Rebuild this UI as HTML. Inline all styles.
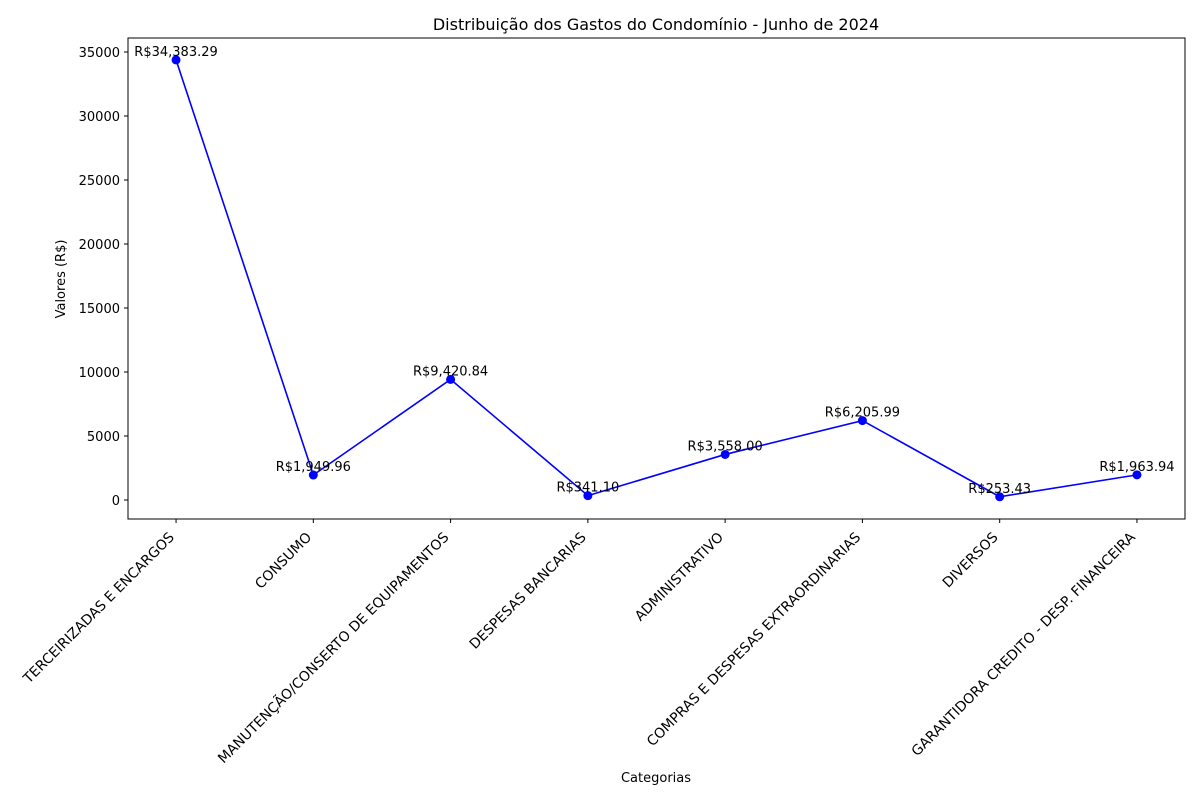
<!DOCTYPE html>
<html><head><meta charset="utf-8"><style>
body{margin:0;background:#fff}
svg{font-family:"DejaVu Sans","Liberation Sans",sans-serif}
</style></head><body>
<svg id="chart" width="1200" height="800" viewBox="0 0 1200 800">
<rect width="1200" height="800" fill="#fff"/>
<text x="656" y="30" font-size="16" text-anchor="middle">Distribuição dos Gastos do Condomínio - Junho de 2024</text>
<text x="656" y="782" font-size="13" text-anchor="middle">Categorias</text>
<text transform="translate(65,279) rotate(-90)" font-size="13" text-anchor="middle">Valores (R$)</text>
<g id="yt"></g><g id="xt"></g><g id="series"></g>
<rect x="128" y="38" width="1057" height="481" fill="none" stroke="#000" stroke-width="1"/>
</svg>
<script>
const categories=["TERCEIRIZADAS E ENCARGOS","CONSUMO","MANUTENÇÃO/CONSERTO DE EQUIPAMENTOS","DESPESAS BANCARIAS","ADMINISTRATIVO","COMPRAS E DESPESAS EXTRAORDINARIAS","DIVERSOS","GARANTIDORA CREDITO - DESP. FINANCEIRA"];
const values=[34383.29,1949.96,9420.84,341.10,3558.00,6205.99,253.43,1963.94];
const yTicks=[0,5000,10000,15000,20000,25000,30000,35000];
const NS="http://www.w3.org/2000/svg";
const L=128,R=1185;
const xs=i=>L+(i+0.35)*(R-L)/(categories.length-1+0.7);
const ys=v=>500-v*(64/5000);
function mk(t,a,p){const e=document.createElementNS(NS,t);for(const k in a)e.setAttribute(k,a[k]);p.appendChild(e);return e;}
const yt=document.getElementById('yt'),xt=document.getElementById('xt'),sg=document.getElementById('series');
yTicks.forEach(v=>{
 const l=mk('line',{x1:L-4,x2:L,y1:ys(v),y2:ys(v),stroke:'#000'},yt);
 
 
 const t=mk('text',{x:L-8,y:ys(v)+5,'font-size':13,'text-anchor':'end'},yt);t.textContent=v;
 
 
});
categories.forEach((c,i)=>{
 const x=xs(i);
 const l=mk('line',{x1:x,x2:x,y1:519,y2:523,stroke:'#000'},xt);
 
 
 const t=mk('text',{transform:`translate(${x-1},${538}) rotate(-45)`,'font-size':13.9,'text-anchor':'end'},xt);t.textContent=c;
 
 
});
const pl=mk('polyline',{points:values.map((v,i)=>xs(i)+','+ys(v)).join(' '),fill:'none',stroke:'#0000ff','stroke-width':1.6},sg);


values.forEach((v,i)=>{
 const c=mk('circle',{cx:xs(i),cy:ys(v),r:4.5,fill:'#0000ff'},sg);
 
 
 const t=mk('text',{x:xs(i),y:ys(v)-4,'font-size':13,'text-anchor':'middle'},sg);
 t.textContent='R$'+v.toLocaleString('en-US',{minimumFractionDigits:2,maximumFractionDigits:2});
 
 
});
</script>
</body></html>
